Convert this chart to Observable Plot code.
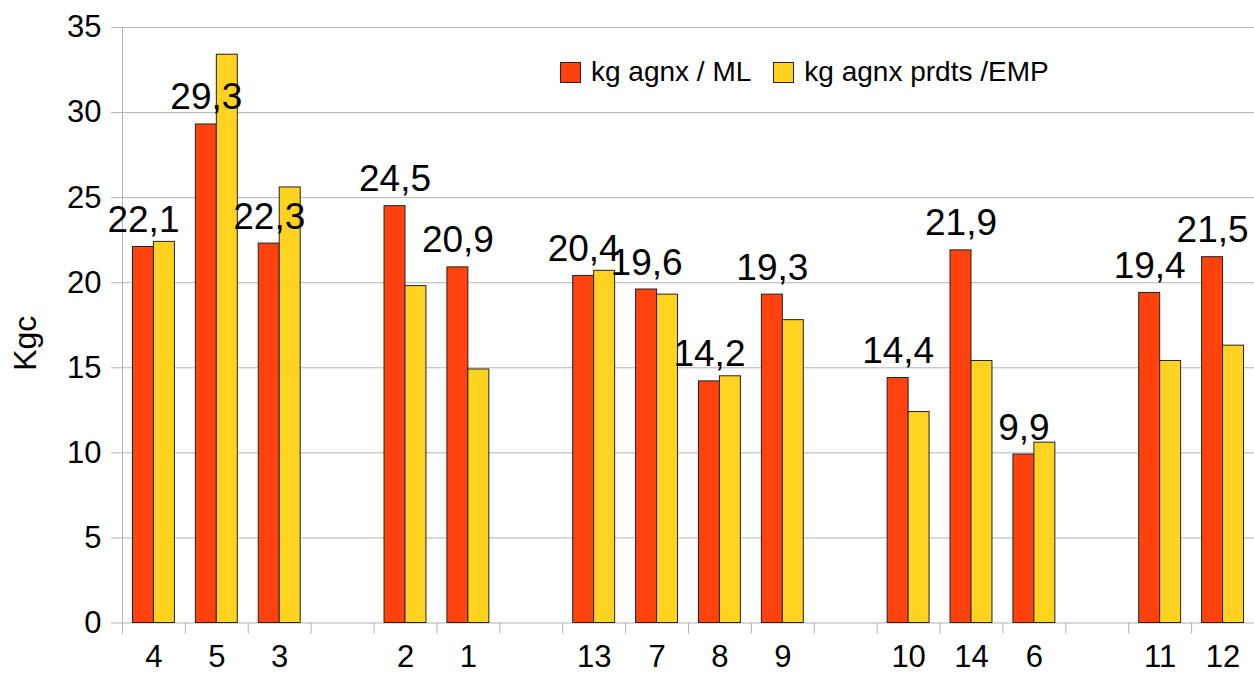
<!DOCTYPE html>
<html>
<head>
<meta charset="utf-8">
<script src="https://cdn.jsdelivr.net/npm/d3@7"></script>
<script src="https://cdn.jsdelivr.net/npm/@observablehq/plot@0.6"></script>
<style>
  html, body { margin: 0; padding: 0; background: #fff; }
  #chart { position: relative; width: 1254px; height: 675px; font-family: "Liberation Sans", Arial, sans-serif; }
  .legend { position: absolute; left: 560px; top: 56px; display: flex; align-items: center; font-size: 28px; color: #000; }
  .legend .item { display: flex; align-items: center; margin-right: 22px; }
  .legend .swatch { width: 21px; height: 21px; box-sizing: border-box; border: 1px solid #222; margin-right: 10px; }
</style>
</head>
<body>
<div id="chart"></div>
<script>
// Categories, in display order, split into the groups separated by a blank slot
const groups = [["4", "5", "3"], ["2", "1"], ["13", "7", "8", "9"], ["10", "14", "6"], ["11", "12"]];
const categories = groups.flat();

// kg agnx / ML
const mlValues = [22.1, 29.3, 22.3, 24.5, 20.9, 20.4, 19.6, 14.2, 19.3, 14.4, 21.9, 9.9, 19.4, 21.5];
// kg agnx prdts /EMP
const empValues = [22.4, 33.4, 25.6, 19.8, 14.9, 20.7, 19.3, 14.5, 17.8, 12.4, 15.4, 10.6, 15.4, 16.3];

const seriesNames = ["kg agnx / ML", "kg agnx prdts /EMP"];
const seriesColors = ["#ff420e", "#ffd320"];
const yTicks = [0, 5, 10, 15, 20, 25, 30, 35];
const yLabel = "Kgc";

// x slots: every category plus an empty slot between consecutive groups
const slots = [];
groups.forEach((g, i) => {
  if (i > 0) slots.push(`gap${i}`);
  slots.push(...g);
});

const rows = categories.map((c, i) => ({category: c, ml: mlValues[i], emp: empValues[i]}));
const fmt = v => v.toFixed(1).replace(".", ",");

const width = 1254, height = 675;
const marginLeft = 122, marginRight = 0, marginTop = 27, marginBottom = 52.5;
const bw = (width - marginLeft - marginRight) / slots.length; // slot width
const axisGray = "#b3b3b3";
const barStroke = "#222";

const chart = Plot.plot({
  width, height, marginLeft, marginRight, marginTop, marginBottom,
  style: {fontFamily: "'Liberation Sans', Arial, sans-serif", fontSize: "31px", background: "#fff", color: "#000"},
  x: {type: "band", domain: slots, padding: 0, round: false, label: null},
  y: {domain: [0, 35], ticks: yTicks, label: null},
  marks: [
    Plot.gridY(yTicks, {stroke: axisGray, strokeOpacity: 1}),
    // vertical axis line at the left edge of the first slot
    Plot.ruleX([slots[0]], {dx: -bw / 2, stroke: axisGray}),
    // tick marks on the slot boundaries
    Plot.axisX({tickSize: 11, tickFormat: () => "", dx: -bw / 2, stroke: axisGray, label: null}),
    // category labels under each slot
    Plot.axisX({tickSize: 0, tickPadding: 22, fontSize: 31, fill: "#000",
      tickFormat: d => d.startsWith("gap") ? "" : d, label: null}),
    Plot.axisY({ticks: yTicks, tickSize: 11, tickPadding: 10, fontSize: 31, stroke: axisGray, fill: "#000", label: null}),
    // bar pairs: ML on the left half, EMP on the right half of each slot
    Plot.barY(rows, {x: "category", y: "ml", fill: seriesColors[0], stroke: barStroke, strokeWidth: 1,
      insetLeft: bw / 6, insetRight: bw / 2}),
    Plot.barY(rows, {x: "category", y: "emp", fill: seriesColors[1], stroke: barStroke, strokeWidth: 1,
      insetLeft: bw / 2, insetRight: bw / 6}),
    // value labels above the ML bars
    Plot.text(rows, {x: "category", y: "ml", text: d => fmt(d.ml), dx: -bw / 6, dy: -15,
      lineAnchor: "bottom", fontSize: 37, fill: "#000"}),
    // y-axis title
    Plot.text([yLabel], {text: d => d, frameAnchor: "left", rotate: -90, dx: -87, dy: 18,
      lineAnchor: "bottom", textAnchor: "middle", fontSize: 32, fill: "#000"})
  ]
});

const container = document.getElementById("chart");
container.appendChild(chart);

// legend drawn inside the plot area, near the top
const legend = document.createElement("div");
legend.className = "legend";
seriesNames.forEach((name, i) => {
  const item = document.createElement("div");
  item.className = "item";
  const sw = document.createElement("span");
  sw.className = "swatch";
  sw.style.background = seriesColors[i];
  const label = document.createElement("span");
  label.textContent = name;
  item.append(sw, label);
  legend.appendChild(item);
});
container.appendChild(legend);
</script>
</body>
</html>
